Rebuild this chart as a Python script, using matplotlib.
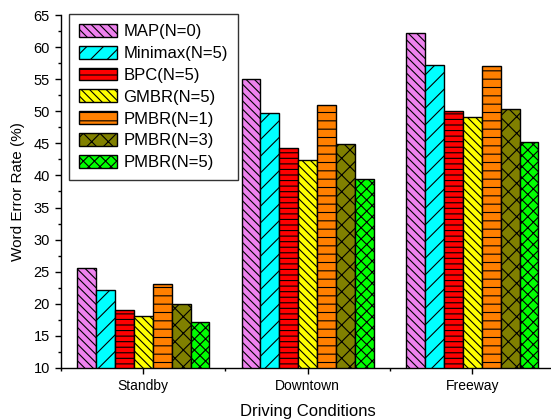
import numpy as np
import matplotlib
matplotlib.use("Agg")
import matplotlib.pyplot as plt
from matplotlib.ticker import MultipleLocator

plt.rcParams['font.family'] = ['Liberation Sans', 'DejaVu Sans']
plt.rcParams['hatch.linewidth'] = 0.8

# Data
conditions = ["Standby", "Downtown", "Freeway"]
methods = ["MAP(N=0)", "Minimax(N=5)", "BPC(N=5)", "GMBR(N=5)",
           "PMBR(N=1)", "PMBR(N=3)", "PMBR(N=5)"]
map_n0 = [25.6, 55.0, 62.3]
minimax_n5 = [22.1, 49.8, 57.3]
bpc_n5 = [19.0, 44.3, 50.0]
gmbr_n5 = [18.1, 42.4, 49.1]
pmbr_n1 = [23.0, 51.0, 57.1]
pmbr_n3 = [20.0, 44.9, 50.3]
pmbr_n5 = [17.2, 39.5, 45.3]
series = [map_n0, minimax_n5, bpc_n5, gmbr_n5, pmbr_n1, pmbr_n3, pmbr_n5]

colors = ['#EE82EE', '#00FFFF', '#FF0000', '#FFFF00', '#FF8000', '#808000', '#00FF00']
hatches = ['\\\\\\\\', '//', '---', '\\\\\\\\', '--', 'xx', 'xxx']

fig = plt.figure(figsize=(5.51, 4.19), dpi=100)
ax = fig.add_axes([61 / 551, 51.3 / 419, 493.5 / 551, 352.4 / 419])

x = np.arange(1, len(conditions) + 1)
w = 0.115
for i, vals in enumerate(series):
    ax.bar(x + (i - 3) * w, vals, w, color=colors[i], edgecolor='black',
           linewidth=1.0, hatch=hatches[i], label=methods[i])

ax.set_xlim(0.5, 3.5)
ax.set_ylim(10, 65)
ax.set_xticks(x)
ax.set_xticklabels(conditions)
ax.xaxis.set_minor_locator(MultipleLocator(0.5))
ax.yaxis.set_major_locator(MultipleLocator(5))
ax.yaxis.set_minor_locator(MultipleLocator(2.5))
ax.tick_params(which='major', direction='out', length=4, width=1, labelsize=10, pad=4)
ax.tick_params(axis='y', which='major', labelsize=10.5)
ax.tick_params(which='minor', direction='out', length=2.5, width=1)

for s in ['top', 'right']:
    ax.spines[s].set_visible(False)
for s in ['left', 'bottom']:
    ax.spines[s].set_linewidth(1.0)

ax.set_xlabel("Driving Conditions", fontsize=12, labelpad=8)
ax.set_ylabel("Word Error Rate (%)", fontsize=11, labelpad=6)

leg = ax.legend(loc='upper left', bbox_to_anchor=(69 / 551, 1 - 14 / 419),
                bbox_transform=fig.transFigure, fontsize=12, frameon=True,
                fancybox=False, edgecolor='black', borderaxespad=0,
                borderpad=0.6, labelspacing=0.4, handlelength=2.3,
                handleheight=0.8, handletextpad=0.35)
leg.get_frame().set_linewidth(1.0)

fig.savefig("out.png", dpi=100)
